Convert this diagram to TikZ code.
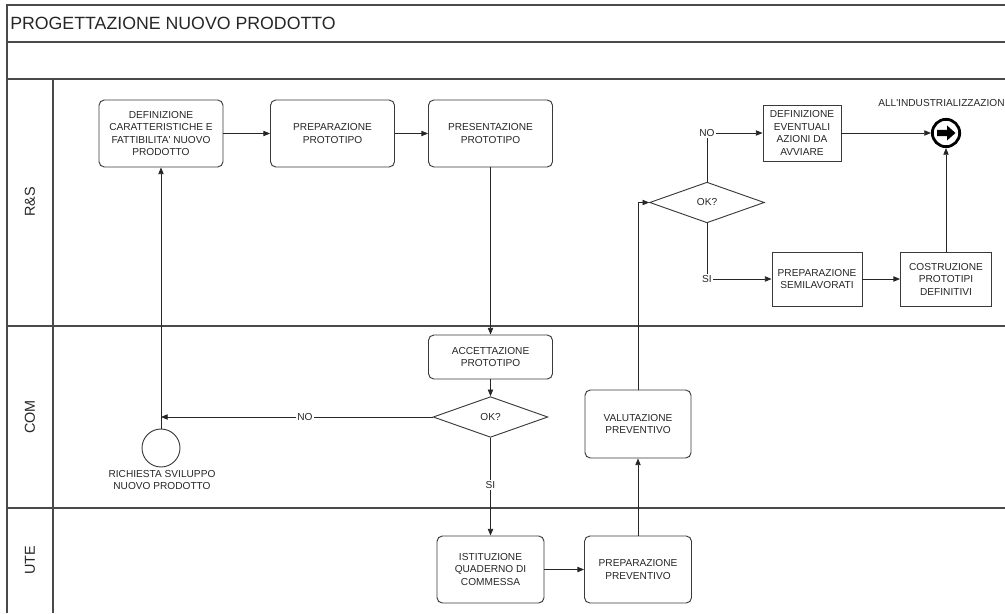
\documentclass[tikz,border=0pt]{standalone}
\usepackage{fontspec}
\setmainfont{Liberation Sans}
\usetikzlibrary{shapes.geometric,arrows.meta}
\definecolor{frame}{HTML}{4A4A4A}
\definecolor{boxline}{HTML}{3A3A3A}
\definecolor{ink}{HTML}{262626}
\begin{document}
\begin{tikzpicture}[x=0.75pt,y=-0.75pt,
  every node/.style={text=ink},
  small/.style={font=\fontsize{7.6}{9.4}\selectfont},
  rule/.style={draw=frame,line width=0.9pt},
  sep/.style={draw=frame,line width=1.4pt},
  task/.style={small,draw=boxline,line width=0.7pt,rounded corners=4pt,align=center,inner sep=1pt},
  plain/.style={small,draw=boxline,line width=0.7pt,align=center,inner sep=1pt},
  gate/.style={small,diamond,draw=boxline,line width=0.7pt,inner sep=0pt,minimum width=86pt,minimum height=30.5pt},
  lbl/.style={small,fill=white,inner sep=1pt},
  arr/.style={draw=black!85,line width=0.6pt,-{Triangle[length=5pt,width=4pt]}},
  link/.style={draw=black!85,line width=0.6pt},
  lanename/.style={font=\fontsize{10.8}{12}\selectfont,rotate=90}
]
\useasboundingbox (0,0) rectangle (1005,613);

% pool frame and lanes
\draw[rule] (1005,5) -- (7,5) -- (7,613);
\draw[rule] (7,42) -- (1005,42);
\draw[rule] (7,79) -- (1005,79);
\draw[rule] (53,79) -- (53,613);
\draw[sep] (7,326) -- (1005,326);
\draw[sep] (7,508) -- (1005,508);

\node[anchor=west,font=\fontsize{13.3}{15}\selectfont,inner sep=0pt] (title) at (10,23.5) {PROGETTAZIONE NUOVO PRODOTTO};
\node[lanename] (laneRS) at (30,202) {R\&S};
\node[lanename] (laneCOM) at (30,417) {COM};
\node[lanename] (laneUTE) at (30,560) {UTE};

% R&S lane
\node[task,minimum width=93pt,minimum height=50.25pt] (def) at (161,133.5)
  {DEFINIZIONE\\CARATTERISTICHE E\\FATTIBILITA\textquotesingle{} NUOVO\\PRODOTTO};
\node[task,minimum width=93pt,minimum height=50.25pt] (prep) at (332.5,133.5) {PREPARAZIONE\\PROTOTIPO};
\node[task,minimum width=93pt,minimum height=50.25pt] (pres) at (490.5,133.5) {PRESENTAZIONE\\PROTOTIPO};
\node[gate] (ok2) at (707,202.5) {OK?};
\node[small,inner sep=1pt] (no2) at (707,133) {NO};
\node[small,inner sep=1pt] (si2) at (707,279) {SI};
\node[plain,minimum width=58.5pt,minimum height=42pt] (azioni) at (802,133) {DEFINIZIONE\\EVENTUALI\\AZIONI DA\\AVVIARE};
\node[plain,minimum width=67.5pt,minimum height=40.5pt] (semi) at (817,279) {PREPARAZIONE\\SEMILAVORATI};
\node[plain,minimum width=68.25pt,minimum height=40.5pt] (costr) at (946,279) {COSTRUZIONE\\PROTOTIPI\\DEFINITIVI};
\node[circle,draw=black,line width=2.1pt,minimum size=20.5pt,inner sep=0pt] (fine) at (946,133) {};
\node[small,anchor=west,inner sep=0pt] (fineLbl) at (878,103) {ALL\textquotesingle INDUSTRIALIZZAZION};
\begin{scope}[shift={(946,133)}]
  \fill[black] (-9,-3.2) -- (1,-3.2) -- (1,-7.5) -- (9.5,0) -- (1,7.5) -- (1,3.2) -- (-9,3.2) -- cycle;
\end{scope}

% COM lane
\node[task,minimum width=93pt,minimum height=33pt] (acc) at (490.5,357) {ACCETTAZIONE\\PROTOTIPO};
\node[gate] (ok1) at (490.5,417) {OK?};
\node[circle,draw=boxline,line width=0.7pt,minimum size=28.5pt,inner sep=0pt] (start) at (161,448) {};
\node[small,align=center,anchor=north,inner sep=0pt] (startLbl) at (162,470) {RICHIESTA SVILUPPO\\NUOVO PRODOTTO};
\node[task,minimum width=79.5pt,minimum height=51pt] (valut) at (638,424) {VALUTAZIONE\\PREVENTIVO};

% UTE lane
\node[task,minimum width=80.25pt,minimum height=50.25pt] (ist) at (490.5,569.5) {ISTITUZIONE\\QUADERNO DI\\COMMESSA};
\node[task,minimum width=80.25pt,minimum height=50.25pt] (prev) at (638,569.5) {PREPARAZIONE\\PREVENTIVO};

\coordinate (join) at (start.north |- ok1.west);

% sequence flows
\draw[arr] (def) -- (prep);
\draw[arr] (prep) -- (pres);
\draw[arr] (pres) -- (acc);
\draw[arr] (acc) -- (ok1);
\draw[arr] (ok1.west) -- node[lbl,pos=0.47] (noLbl) {NO} (join);
\draw[arr] (start.north) -- (def.south);
\draw[arr] (ok1.south) -- node[lbl,pos=0.48] (siLbl) {SI} (ist.north);
\draw[arr] (ist) -- (prev);
\draw[arr] (prev) -- (valut);
\draw[arr] (valut.north) |- (ok2.west);
\draw[link] (ok2.north) -- (no2.south);
\draw[arr] (no2.east) -- (azioni.west);
\draw[link] (ok2.south) -- (si2.north);
\draw[arr] (si2.east) -- (semi.west);
\draw[arr] (semi) -- (costr);
\draw[arr] (azioni) -- (fine);
\draw[arr] (costr.north) -- (fine.south);
\end{tikzpicture}
\end{document}
